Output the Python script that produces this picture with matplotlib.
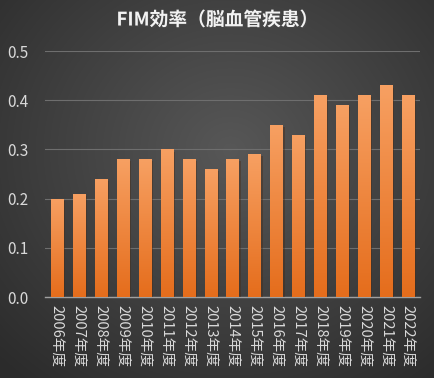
import numpy as np
import matplotlib
matplotlib.use('Agg')
import matplotlib.pyplot as plt
from matplotlib.colors import LinearSegmentedColormap
import matplotlib.patheffects as pe

plt.rcParams['font.family'] = ['Noto Sans CJK JP', 'DejaVu Sans']

years = ['2006', '2007', '2008', '2009', '2010', '2011', '2012', '2013', '2014',
         '2015', '2016', '2017', '2018', '2019', '2020', '2021', '2022']
labels = [y + '年度' for y in years]
values = [0.20, 0.21, 0.24, 0.28, 0.28, 0.30, 0.28, 0.26, 0.28,
          0.29, 0.35, 0.33, 0.41, 0.39, 0.41, 0.43, 0.41]

fig = plt.figure(figsize=(4.35, 3.78), dpi=100)

# radial-ish dark background
bg = fig.add_axes([0, 0, 1, 1])
yy, xx = np.mgrid[0:378, 0:435]
d = np.sqrt(((xx - 230) / 330.0) ** 2 + ((yy - 150) / 300.0) ** 2)
bgcmap = LinearSegmentedColormap.from_list('bg', ['#575757', '#2b2b2b'])
bg.imshow(d, cmap=bgcmap, vmin=0, vmax=1, aspect='auto')
bg.axis('off')

ax = fig.add_axes([0.103, 0.214, 0.863, 0.651])
ax.set_facecolor('none')
x = np.arange(len(values))
bars = ax.bar(x, values, width=0.55, color='#f08a40', zorder=3,
              path_effects=[pe.SimplePatchShadow(offset=(1.5, -1.5), alpha=0.4), pe.Normal()])

grad = np.linspace(0, 1, 100).reshape(-1, 1)
barcmap = LinearSegmentedColormap.from_list('bar', ['#e56d1c', '#f7a062'])
for b in bars:
    im = ax.imshow(grad, cmap=barcmap, origin='lower', aspect='auto', zorder=4,
                   extent=[b.get_x(), b.get_x() + b.get_width(), 0, b.get_height()])
    im.set_clip_path(b)

ax.set_xlim(-0.55, len(values) - 0.45)
ax.set_ylim(0, 0.5)
ax.set_yticks([0, 0.1, 0.2, 0.3, 0.4, 0.5])
ax.set_yticklabels(['0.0', '0.1', '0.2', '0.3', '0.4', '0.5'])
ax.yaxis.grid(True, color='#6e6e6e', linewidth=0.8, zorder=0)
ax.set_xticks(x)
ax.set_xticklabels(labels, rotation=270)
ax.tick_params(axis='both', length=0, colors='#d9d9d9')
ax.tick_params(axis='y', pad=12, labelsize=11)
ax.tick_params(axis='x', pad=6, labelsize=10.5)
for s in ['top', 'right', 'left']:
    ax.spines[s].set_visible(False)
ax.spines['bottom'].set_color('#a0a0a0')
ax.spines['bottom'].set_linewidth(1)

fig.text(0.5, 0.947, 'FIM効率（脳血管疾患）', ha='center', va='center',
         color='#f2f2f2', fontsize=13.5, fontweight='bold',
         path_effects=[pe.withSimplePatchShadow(offset=(1, -1), alpha=0.6)])

fig.savefig('out.png', dpi=100)
